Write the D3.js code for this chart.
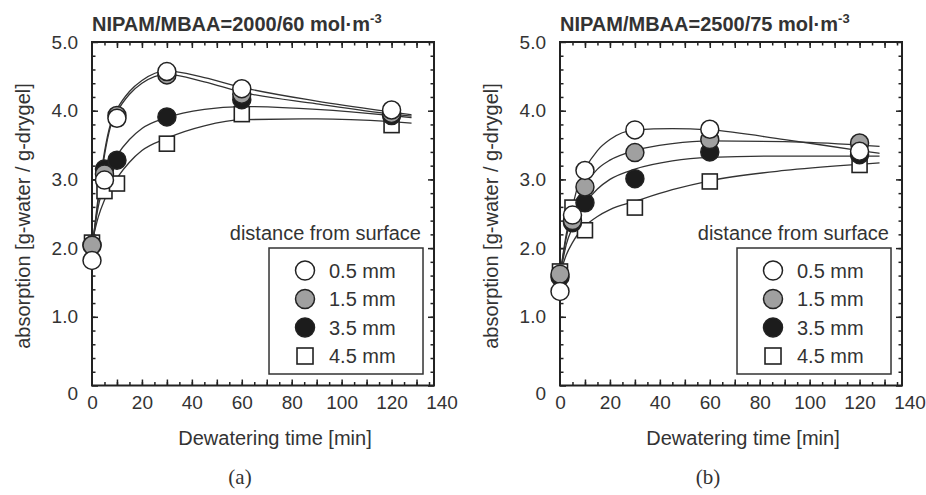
<!DOCTYPE html>
<html>
<head>
<meta charset="UTF-8">
<title>Absorption vs dewatering time</title>
<script src="https://d3js.org/d3.v7.min.js"></script>
<style>
  body { margin: 0; background: #fff; }
  svg { display: block; background: #fff; }
  text { fill: #333; font-family: "Liberation Sans", Arial, sans-serif; }
</style>
</head>
<body>
<script>
// measured times (min) and the four depths
const times = [0, 5, 10, 30, 60, 120];
const depths = ["0.5 mm", "1.5 mm", "3.5 mm", "4.5 mm"];

// panel (a) NIPAM/MBAA=2000/60
const a05 = [1.82, 2.99, 3.89, 4.57, 4.32, 4.01];
const a15 = [2.04, 3.08, 3.93, 4.52, 4.24, 3.96];
const a35 = [2.04, 3.15, 3.28, 3.91, 4.16, 3.93];
const a45 = [2.08, 2.83, 2.94, 3.52, 3.95, 3.79];

// panel (b) NIPAM/MBAA=2500/75
const b05 = [1.37, 2.48, 3.13, 3.72, 3.73, 3.41];
const b15 = [1.62, 2.40, 2.89, 3.39, 3.58, 3.53];
const b35 = [1.58, 2.37, 2.66, 3.01, 3.40, 3.36];
const b45 = [1.66, 2.59, 2.26, 2.59, 2.97, 3.21];

// fitted curves
const fitTimes = [0, 2.5, 5, 7.5, 10, 15, 20, 30, 45, 60, 90, 120, 128];
const fitA05 = [1.95, 2.75, 3.40, 3.82, 4.02, 4.28, 4.44, 4.58, 4.48, 4.34, 4.14, 3.98, 3.94];
const fitA15 = [1.95, 2.70, 3.35, 3.78, 3.98, 4.24, 4.40, 4.53, 4.42, 4.27, 4.10, 3.95, 3.92];
const fitA35 = [2.05, 2.60, 2.95, 3.20, 3.35, 3.58, 3.74, 3.90, 4.02, 4.06, 4.02, 3.93, 3.90];
const fitA45 = [2.08, 2.45, 2.70, 2.88, 3.02, 3.25, 3.42, 3.60, 3.78, 3.87, 3.88, 3.84, 3.82];
const fitB05 = [1.60, 2.20, 2.60, 2.95, 3.15, 3.42, 3.58, 3.72, 3.74, 3.72, 3.58, 3.42, 3.38];
const fitB15 = [1.60, 2.15, 2.50, 2.75, 2.92, 3.15, 3.28, 3.42, 3.52, 3.56, 3.55, 3.50, 3.48];
const fitB35 = [1.60, 2.05, 2.30, 2.50, 2.65, 2.86, 3.00, 3.15, 3.27, 3.32, 3.34, 3.34, 3.34];
const fitB45 = [1.62, 1.90, 2.08, 2.22, 2.32, 2.46, 2.56, 2.68, 2.85, 2.98, 3.13, 3.22, 3.24];

// axis ticks
const xLabelTicks = [0, 20, 40, 60, 80, 100, 120, 140];
const yLabelTicks = [0, 1, 2, 3, 4, 5];

const W = 926, H = 495;
const fills = ["#ffffff", "#a0a0a0", "#1c1c1c", "#ffffff"];
const shapes = ["circle", "circle", "circle", "square"];

const panels = [
  { left: 92, title: "NIPAM/MBAA=2000/60 mol·m", caption: "(a)",
    points: [a05, a15, a35, a45], fits: [fitA05, fitA15, fitA35, fitA45] },
  { left: 560, title: "NIPAM/MBAA=2500/75 mol·m", caption: "(b)",
    points: [b05, b15, b35, b45], fits: [fitB05, fitB15, fitB35, fitB45] }
];

const svg = d3.select("body").append("svg").attr("width", W).attr("height", H);

function marker(g, shape, fill, cx, cy, size) {
  if (shape === "circle") {
    g.append("circle").attr("cx", cx).attr("cy", cy).attr("r", size)
      .attr("fill", fill).attr("stroke", "#222").attr("stroke-width", 1.5);
  } else {
    g.append("rect").attr("x", cx - size + 0.5).attr("y", cy - size + 0.5)
      .attr("width", 2 * size - 1).attr("height", 2 * size - 1)
      .attr("fill", fill).attr("stroke", "#222").attr("stroke-width", 1.6);
  }
}

function styleAxis(sel, size) {
  sel.select(".domain").remove();
  sel.selectAll("line").attr("stroke", "#222").attr("stroke-width", 1.5);
  sel.selectAll("text").attr("font-size", size).attr("fill", "#333")
    .attr("font-family", "'Liberation Sans', Arial, sans-serif");
}

panels.forEach(p => {
  const top = 42, bottom = 385.5;
  const x = d3.scaleLinear().domain([0, 140]).range([p.left, p.left + 349.5]);
  const y = d3.scaleLinear().domain([0, 5]).range([bottom, top]);
  const xEnd = x(137);
  const g = svg.append("g");

  const minorX = d3.range(5, 136, 5);
  const majorX = d3.range(10, 131, 10);
  const minorY = d3.range(0.2, 5, 0.2);

  // bottom
  g.append("g").attr("transform", `translate(0,${bottom})`)
    .call(d3.axisBottom(x).tickValues(minorX).tickSize(-3.5).tickFormat(""))
    .call(s => styleAxis(s, 19));
  g.append("g").attr("transform", `translate(0,${bottom})`)
    .call(d3.axisBottom(x).tickValues(majorX).tickSize(-6).tickFormat(""))
    .call(s => styleAxis(s, 19));
  g.append("g").attr("transform", `translate(0,${bottom})`)
    .call(d3.axisBottom(x).tickValues(xLabelTicks).tickSize(0).tickPadding(10))
    .call(s => styleAxis(s, 19));
  // top
  g.append("g").attr("transform", `translate(0,${top})`)
    .call(d3.axisTop(x).tickValues(minorX).tickSize(-3.5).tickFormat(""))
    .call(s => styleAxis(s, 19));
  g.append("g").attr("transform", `translate(0,${top})`)
    .call(d3.axisTop(x).tickValues(majorX).tickSize(-6).tickFormat(""))
    .call(s => styleAxis(s, 19));
  // left
  g.append("g").attr("transform", `translate(${x(0)},0)`)
    .call(d3.axisLeft(y).tickValues(minorY).tickSize(-3.5).tickFormat(""))
    .call(s => styleAxis(s, 19));
  g.append("g").attr("transform", `translate(${x(0)},0)`)
    .call(d3.axisLeft(y).tickValues(yLabelTicks).tickSize(-6).tickPadding(14)
      .tickFormat(d => d === 0 ? "0" : d3.format(".1f")(d)))
    .call(s => styleAxis(s, 19))
    .call(s => s.selectAll("text").filter(d => d === 0).attr("dy", "0.75em"));
  // right
  g.append("g").attr("transform", `translate(${xEnd},0)`)
    .call(d3.axisRight(y).tickValues(minorY).tickSize(-3.5).tickFormat(""))
    .call(s => styleAxis(s, 19));
  g.append("g").attr("transform", `translate(${xEnd},0)`)
    .call(d3.axisRight(y).tickValues(yLabelTicks).tickSize(-6).tickFormat(""))
    .call(s => styleAxis(s, 19));

  // frame
  g.append("rect").attr("x", x(0)).attr("y", top)
    .attr("width", xEnd - x(0)).attr("height", bottom - top)
    .attr("fill", "none").attr("stroke", "#222").attr("stroke-width", 2);

  // title with superscript
  const t = g.append("text").attr("x", x(0)).attr("y", 31)
    .attr("font-size", 20).attr("font-weight", "bold").attr("fill", "#222")
    .text(p.title);
  t.append("tspan").attr("font-size", 13).attr("dy", -8).text("-3");

  // axis titles
  g.append("text").attr("x", (x(0) + xEnd) / 2 + 12).attr("y", 445)
    .attr("text-anchor", "middle").attr("font-size", 20)
    .text("Dewatering time [min]");
  g.append("text")
    .attr("transform", `translate(${x(0) - 69},216) rotate(-90)`)
    .attr("text-anchor", "middle").attr("dominant-baseline", "central")
    .attr("font-size", 20).text("absorption [g-water / g-drygel]");

  // caption
  g.append("text").attr("x", x(0) + 148).attr("y", 484)
    .attr("text-anchor", "middle").attr("font-size", 21)
    .style("font-family", "'Liberation Serif', 'Times New Roman', serif")
    .attr("fill", "#111").text(p.caption);

  // fitted curves
  const line = d3.line().x((d, i) => x(fitTimes[i])).y(d => y(d)).curve(d3.curveMonotoneX);
  p.fits.slice().reverse().forEach(f => {
    g.append("path").attr("d", line(f)).attr("fill", "none")
      .attr("stroke", "#333").attr("stroke-width", 1.3);
  });

  // markers: squares first, white circles on top
  [3, 2, 1, 0].forEach(k => {
    p.points[k].forEach((v, i) => {
      marker(g, shapes[k], fills[k], x(times[i]), y(v), shapes[k] === "circle" ? 9 : 8);
    });
  });

  // legend
  const boxL = xEnd - 165, boxT = 248;
  g.append("text").attr("x", xEnd - 13).attr("y", 240)
    .attr("text-anchor", "end").attr("font-size", 20).text("distance from surface");
  g.append("rect").attr("x", boxL).attr("y", boxT).attr("width", 154).attr("height", 126)
    .attr("fill", "#fff").attr("stroke", "#333").attr("stroke-width", 1.5);
  depths.forEach((d, k) => {
    const cy = boxT + 22.5 + k * 28.5;
    marker(g, shapes[k], fills[k], boxL + 36, cy, shapes[k] === "circle" ? 9.5 : 8.5);
    g.append("text").attr("x", boxL + 60).attr("y", cy).attr("dy", "0.36em")
      .attr("font-size", 20).text(d);
  });
});
</script>
</body>
</html>
